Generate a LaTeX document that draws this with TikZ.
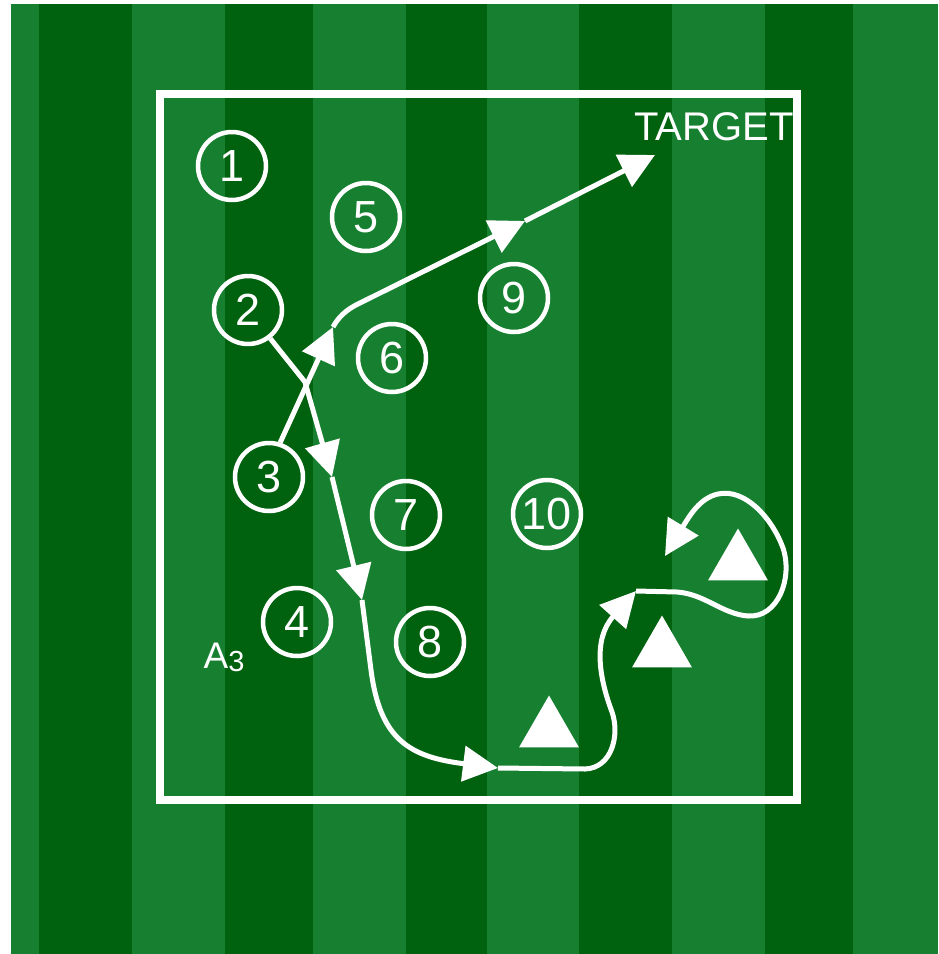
\documentclass[tikz,border=0pt]{standalone}
\usepackage{fontspec}
\setmainfont{Liberation Sans}
\usetikzlibrary{shapes.geometric, arrows.meta}

\definecolor{pitchlight}{RGB}{23,128,48}
\definecolor{pitchdark}{RGB}{0,97,15}

\begin{document}
\begin{tikzpicture}[
    x=1pt, y=-1pt,
    player/.style={circle, draw=white, line width=4.5pt, minimum size=68pt, inner sep=0pt, text=white, font=\fontsize{45}{45}\selectfont},
    cone/.style={regular polygon, regular polygon sides=3, fill=white, minimum size=69pt, inner sep=0pt},
    caption/.style={text=white, inner sep=0pt},
    arrow/.style={white, line width=5pt, -{Triangle[length=35pt, width=35pt]}}
]

% Pitch
\useasboundingbox (0,0) rectangle (938,954);
\fill[white] (0,0) rectangle (938,954);
\fill[pitchlight] (11,4) rectangle (938,954);
\foreach \xa/\xb in {39/132, 225/313, 406/487, 579/672, 765/853}
    \fill[pitchdark] (\xa,4) rectangle (\xb,954);
\draw[white, line width=7.5pt] (160,94) rectangle (797,800);

% Players
\node (p1) [player] at (232,166) {1};
\node (p2) [player] at (248,310) {2};
\node (p3) [player] at (269,477) {3};
\node (p4) [player] at (297,622) {4};
\node (p5) [player] at (366,217) {5};
\node (p6) [player] at (392,358) {6};
\node (p7) [player] at (406,515) {7};
\node (p8) [player] at (430,642) {8};
\node (p9) [player] at (514,298) {9};
\node (p10) [player] at (547,514) {10};

% Cones
\node (cone1) [cone] at (549,730) {};
\node (cone2) [cone] at (662,650) {};
\node (cone3) [cone] at (738,563) {};

% Labels
\node (target) [caption, font=\fontsize{40}{40}\selectfont] at (714,127) {TARGET};
\node (zone) [caption, font=\fontsize{37}{37}\selectfont] at (224,657) {A\raisebox{-3pt}{\fontsize{29}{29}\selectfont 3}};

% Waypoints
\coordinate (cross) at (305,382);
\coordinate (runA1) at (332,477);
\coordinate (runA2) at (362,600);
\coordinate (runA3) at (498,768);
\coordinate (runA4) at (636,591);
\coordinate (runA5) at (665,556);
\coordinate (passB1) at (333,327);
\coordinate (passB2) at (525,221);
\coordinate (passB3) at (655,155);

% Runs
\draw [arrow] (p2.-52) -- (cross) -- (runA1);
\draw [arrow] (runA1) -- (runA2);
\draw [arrow] (runA2) -- (371,670) .. controls (380,740) and (410,757) .. (runA3);
\draw [arrow] (runA3) -- (585,769) .. controls (612,768) and (620,735) .. (612,712) .. controls (600,680) and (592,640) .. (runA4);
\draw [arrow] (runA4) -- (677,592) .. controls (705,594) and (722,614) .. (748,616) .. controls (778,618) and (793,578) .. (783,548) .. controls (772,518) and (745,488) .. (718,494) .. controls (700,498) and (690,515) .. (runA5);

% Passes
\draw [arrow] (p3.72) -- (passB1);
\draw [arrow] (passB1) .. controls (338,318) and (345,310) .. (360,303) -- (passB2);
\draw [arrow] (passB2) -- (passB3);

\end{tikzpicture}
\end{document}
